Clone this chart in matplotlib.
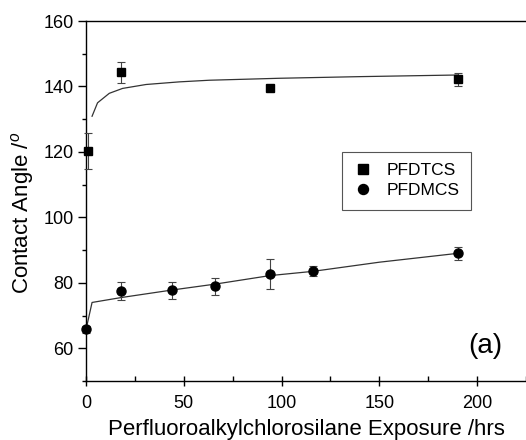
import matplotlib
matplotlib.use("Agg")
import matplotlib.pyplot as plt
from matplotlib.ticker import MultipleLocator
from matplotlib.lines import Line2D

plt.rcParams['font.family'] = ['Liberation Sans', 'DejaVu Sans']
plt.rcParams['mathtext.fontset'] = 'custom'
plt.rcParams['mathtext.rm'] = 'Liberation Sans'
plt.rcParams['mathtext.it'] = 'Liberation Sans:italic'

# PFDTCS data
tcs_x = [1, 18, 94, 190]
tcs_y = [120.2, 144.3, 139.5, 142.2]
tcs_err = [5.5, 3.3, 1.0, 2.0]

# PFDMCS data
mcs_x = [0, 18, 44, 66, 94, 116, 190]
mcs_y = [65.8, 77.4, 77.7, 78.9, 82.6, 83.6, 89.0]
mcs_err = [1.0, 2.7, 2.6, 2.7, 4.6, 1.5, 2.0]

# fitted curves
tcs_fit_x = [3.1, 5.9, 11.9, 18.7, 30.7, 47.7, 63, 98.8, 140, 190]
tcs_fit_y = [130.9, 135.0, 137.9, 139.4, 140.6, 141.4, 141.9, 142.5, 143.0, 143.5]
mcs_fit_x = [0.3, 3.1, 18, 44, 66, 94, 116, 150, 190]
mcs_fit_y = [66.5, 74.0, 75.5, 77.8, 79.6, 82.2, 83.5, 86.3, 89.0]

series_labels = ['PFDTCS', 'PFDMCS']

fig = plt.figure(figsize=(5.26, 4.4), dpi=100)
ax = fig.add_axes([86/526, 1-381/440, 1-86/526, (381-21)/440])

ax.plot(tcs_fit_x, tcs_fit_y, color='#333333', lw=0.9)
ax.plot(mcs_fit_x, mcs_fit_y, color='#333333', lw=0.9)

ax.errorbar(tcs_x, tcs_y, yerr=tcs_err, fmt='s', color='black', ms=5.5,
            ecolor='#444444', elinewidth=0.8, capsize=2.8, capthick=0.8,
            clip_on=False, zorder=3)
ax.errorbar(mcs_x, mcs_y, yerr=mcs_err, fmt='o', color='black', ms=6.5,
            ecolor='#444444', elinewidth=0.8, capsize=2.8, capthick=0.8,
            clip_on=False, zorder=3)

ax.set_xlim(0, 225)
ax.set_ylim(50, 160)
ax.spines['right'].set_visible(False)
for s in ['left', 'bottom', 'top']:
    ax.spines[s].set_linewidth(1.0)

ax.xaxis.set_major_locator(MultipleLocator(50))
ax.xaxis.set_minor_locator(MultipleLocator(25))
ax.yaxis.set_major_locator(MultipleLocator(20))
ax.yaxis.set_minor_locator(MultipleLocator(10))
ax.tick_params(axis='x', which='major', direction='inout', length=7, width=1.0,
               labelsize=13, pad=6.5)
ax.tick_params(axis='x', which='minor', direction='in', length=3.5, width=1.0)
ax.tick_params(axis='y', which='major', direction='out', length=5.5, width=1.0,
               labelsize=13, pad=3.5)
ax.tick_params(axis='y', which='minor', direction='out', length=3, width=1.0)
ax.tick_params(top=False, right=False, which='both')

ax.set_xlabel('Perfluoroalkylchlorosilane Exposure /hrs', fontsize=16, labelpad=5)
ax.set_ylabel(r'Contact Angle /$^{o}$', fontsize=16)
ax.yaxis.set_label_coords((36 - 86) / 440, 1 - (213 - 21) / 360)

handles = [Line2D([], [], ls='none', marker='s', color='black', ms=6.5),
           Line2D([], [], ls='none', marker='o', color='black', ms=7.2)]
leg = ax.legend(handles=handles, labels=series_labels,
                loc='upper left', bbox_to_anchor=((342 - 86) / 440, 1 - (152 - 21) / 360),
                borderaxespad=0, frameon=True, fancybox=False, edgecolor='#555555',
                framealpha=1, fontsize=12.5, handletextpad=0.8, borderpad=0.65,
                labelspacing=0.28, handlelength=1.1)
leg.get_frame().set_linewidth(0.8)

fig.text(485/526, 1-346/440, '(a)', fontsize=20, ha='center', va='center')

fig.savefig('out.png', dpi=100)
